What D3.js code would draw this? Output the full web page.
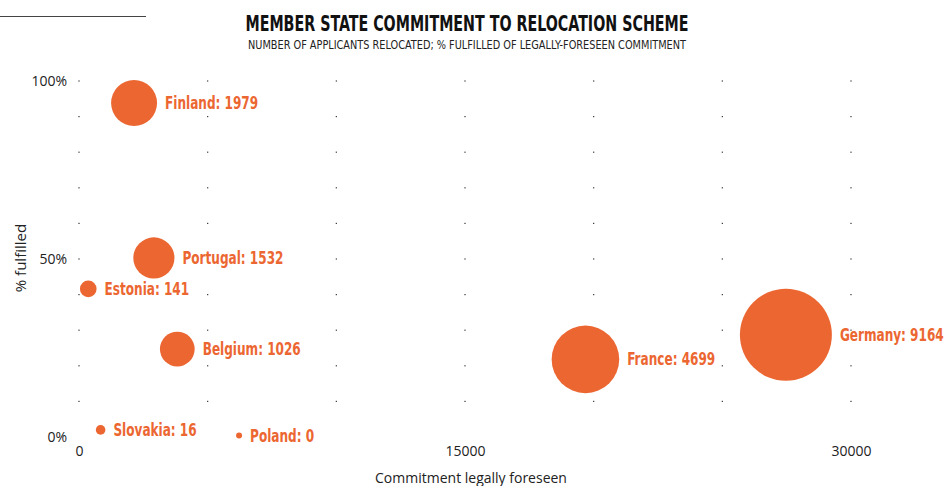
<html>
<head>
<meta charset="utf-8">
<title>Member state commitment to relocation scheme</title>
<script src="https://cdn.jsdelivr.net/npm/d3@7"></script>
<style type="text/css">
  body { margin: 0; background: #fff; }
  .tick-label { font-family: "Open Sans", sans-serif; font-size: 14px; fill: #222; }
  .bubble-label { font-family: "DejaVu Sans Condensed", "Liberation Sans Narrow", sans-serif; font-weight: bold; font-size: 17px; fill: #ec6631; }
</style>
</head>
<body>
<div id="chart"></div>
<script>

// values
var countries  = ["Finland", "Portugal", "Estonia", "Belgium", "Slovakia", "Poland", "France", "Germany"];
var relocated  = [1979, 1532, 141, 1026, 16, 0, 4699, 9164];
var commitment = [2140, 2910, 360, 3820, 840, 6220, 19680, 27470];
var fulfilled  = [93.8, 50.3, 41.6, 24.7, 2.0, 0.4, 21.8, 28.7];

var xTicks = [0, 15000, 30000];
var yTicks = [0, 50, 100];
var xGrid = [0, 5000, 10000, 15000, 20000, 25000, 30000];
var yGrid = [10, 20, 30, 40, 50, 60, 70, 80, 90, 100];

var title = "MEMBER STATE COMMITMENT TO RELOCATION SCHEME";
var subtitle = "NUMBER OF APPLICANTS RELOCATED; % FULFILLED OF LEGALLY-FORESEEN COMMITMENT";

var width = 950, height = 486;
var orange = "#ec6631";

var svg = d3.select("#chart").append("svg")
    .attr("width", width)
    .attr("height", height);

var x = d3.scaleLinear().domain([0, 30000]).range([79, 851]);
var y = d3.scaleLinear().domain([0, 100]).range([437, 81]);
var r = d3.scaleSqrt().domain([0, 9164]).range([3, 46]);

// short rule top left
svg.append("line")
    .attr("x1", 0).attr("x2", 146)
    .attr("y1", 16.5).attr("y2", 16.5)
    .style("stroke", "#444")
    .style("stroke-width", 1.2);

svg.append("text")
    .attr("x", 467).attr("y", 31)
    .attr("text-anchor", "middle")
    .attr("textLength", 443)
    .attr("lengthAdjust", "spacingAndGlyphs")
    .style("font-family", "'DejaVu Sans Condensed', sans-serif")
    .style("font-weight", "bold")
    .style("font-size", "21px")
    .style("fill", "#111")
    .text(title);

svg.append("text")
    .attr("x", 467).attr("y", 49)
    .attr("text-anchor", "middle")
    .attr("textLength", 438)
    .attr("lengthAdjust", "spacingAndGlyphs")
    .style("font-family", "'DejaVu Sans Condensed', sans-serif")
    .style("font-size", "12px")
    .style("fill", "#222")
    .text(subtitle);

// dotted grid
var dots = [];
yGrid.forEach(function (gy) {
    xGrid.forEach(function (gx) { dots.push({ gx: gx, gy: gy }); });
});
svg.append("g").selectAll("rect")
    .data(dots)
  .enter().append("rect")
    .attr("x", function (d) { return x(d.gx) - 0.6; })
    .attr("y", function (d) { return y(d.gy) - 0.6; })
    .attr("width", 1.2)
    .attr("height", 1.2)
    .style("fill", "#333");

// axes (labels only)
var xAxis = d3.axisBottom(x).tickValues(xTicks).tickSize(0).tickPadding(0).tickFormat(d3.format("d"));
var gx = svg.append("g").attr("transform", "translate(0,446)").call(xAxis);
gx.select(".domain").remove();
gx.selectAll("text").attr("class", "tick-label").attr("dy", "0.71em");

var yAxis = d3.axisLeft(y).tickValues(yTicks).tickSize(0).tickPadding(12).tickFormat(function (d) { return d + "%"; });
var gy = svg.append("g").attr("transform", "translate(79,0)").call(yAxis);
gy.select(".domain").remove();
gy.selectAll("text").attr("class", "tick-label");
svg.selectAll(".tick").select(function () { return this.parentNode; })
    .attr("font-size", null).attr("font-family", null);

svg.append("text")
    .attr("class", "tick-label")
    .attr("x", 471).attr("y", 483)
    .attr("text-anchor", "middle")
    .text("Commitment legally foreseen");

svg.append("text")
    .attr("class", "tick-label")
    .attr("transform", "translate(26,258) rotate(-90)")
    .attr("text-anchor", "middle")
    .style("font-size", "15px")
    .text("% fulfilled");

// bubbles
var rows = countries.map(function (c, i) {
    return { name: c, value: relocated[i], x: commitment[i], y: fulfilled[i] };
});

var g = svg.append("g").selectAll("g")
    .data(rows)
  .enter().append("g");

g.append("circle")
    .attr("cx", function (d) { return x(d.x); })
    .attr("cy", function (d) { return y(d.y); })
    .attr("r", function (d) { return r(d.value); })
    .style("fill", orange);

// condensed labels: squeeze horizontally to match the narrow face
g.append("text")
    .attr("class", "bubble-label")
    .attr("transform", function (d) {
        return "translate(" + (x(d.x) + r(d.value) + 8) + "," + (y(d.y) + 1) + ") scale(0.79,1)";
    })
    .attr("dominant-baseline", "middle")
    .text(function (d) { return d.name + ": " + d.value; });

</script>
</body>
</html>
